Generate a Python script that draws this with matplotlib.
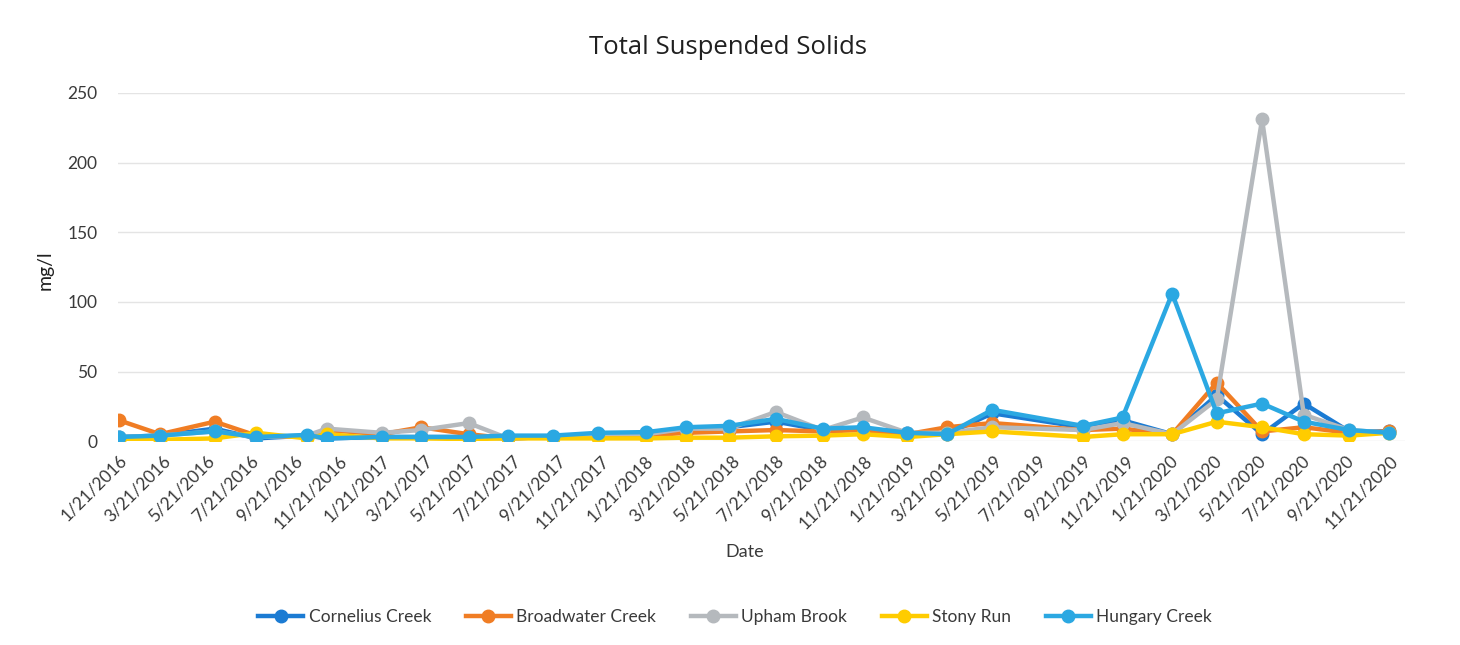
import matplotlib

matplotlib.use("Agg")
import matplotlib.pyplot as plt
import pandas as pd

# sample dates (approximate)
sample_dates = [
    "2016-01-21", "2016-03-18", "2016-06-02", "2016-07-30", "2016-10-08",
    "2016-11-05", "2017-01-20", "2017-03-16", "2017-05-21", "2017-07-15",
    "2017-09-15", "2017-11-17", "2018-01-23", "2018-03-19", "2018-05-18",
    "2018-07-22", "2018-09-25", "2018-11-20", "2019-01-21", "2019-03-17",
    "2019-05-19", "2019-09-22", "2019-11-16", "2020-01-24", "2020-03-26",
    "2020-05-28", "2020-07-25", "2020-09-26", "2020-11-21",
]

cornelius = [3, 4, 9, 2, 4, 2, 3, 3, 3, 2, 3, 5, 6, 9, 10, 14, 8, 9, 6, 5,
             20, 10, 15, 5, 33, 5, 27, 7, 7]
broadwater = [15, 5, 14, 4, 3, 8, 5, 10, 5, 2, 3, 4, 4, 6, 7, 8, 7, 8, 5, 10,
              13, 8, 9, 5, 42, 7, 10, 6, 7]
upham = [3, 4, 7, 3, 4, 9, 6, 8, 13, 2, 3, 5, 5, 9, 9, 21, 8, 17, 6, 6,
         10, 8, 13, 5, 30, 231, 19, 8, 6]
stony = [1, 1, 2, 6, 2, 5, 2, 2, 1.5, 2, 2, 2, 2, 2.5, 2.5, 3.5, 4, 5, 3, 5,
         7, 3, 5, 5, 14, 10, 5, 4, 6]
hungary = [3, 4, 7, 3, 4.5, 2, 3, 3, 3, 4, 4, 6, 6.5, 10, 11, 16, 9, 10, 6, 5,
           22.5, 11, 17, 106, 20, 27, 14, 8, 6]

series_names = ["Cornelius Creek", "Broadwater Creek", "Upham Brook", "Stony Run", "Hungary Creek"]
series_values = [cornelius, broadwater, upham, stony, hungary]
series_colors = ["#1b7bd3", "#f07d24", "#b5b9bd", "#ffcc00", "#2ba8e2"]

tick_labels = [
    "1/21/2016", "3/21/2016", "5/21/2016", "7/21/2016", "9/21/2016", "11/21/2016",
    "1/21/2017", "3/21/2017", "5/21/2017", "7/21/2017", "9/21/2017", "11/21/2017",
    "1/21/2018", "3/21/2018", "5/21/2018", "7/21/2018", "9/21/2018", "11/21/2018",
    "1/21/2019", "3/21/2019", "5/21/2019", "7/21/2019", "9/21/2019", "11/21/2019",
    "1/21/2020", "3/21/2020", "5/21/2020", "7/21/2020", "9/21/2020", "11/21/2020",
]

y_ticks = [0, 50, 100, 150, 200, 250]

FONT = ["Lato", "DejaVu Sans"]
TEXT_COLOR = "#3a3a3a"

dates = pd.to_datetime(sample_dates)
tick_dates = pd.to_datetime(tick_labels, format="%m/%d/%Y")

fig = plt.figure(figsize=(14.6, 6.45), dpi=100)
ax = fig.add_axes([0.081, 0.316, 0.881, 0.54])

for name, values, color in zip(series_names, series_values, series_colors):
    ax.plot(dates, values, color=color, linewidth=3.2, marker="o", markersize=9,
            label=name, solid_joinstyle="round")

ax.set_ylim(0, 250)
ax.set_yticks(y_ticks)
ax.set_xlim(pd.Timestamp("2016-01-20"), pd.Timestamp("2020-12-12"))
ax.set_xticks(tick_dates)
ax.set_xticklabels(tick_labels, rotation=45, ha="right", rotation_mode="anchor",
                   fontsize=12.5, family=FONT, color=TEXT_COLOR)
for lbl in ax.get_yticklabels():
    lbl.set_fontsize(12.5)
    lbl.set_family(FONT)
    lbl.set_color(TEXT_COLOR)

ax.grid(axis="y", color="#e4e4e4", linewidth=1)
ax.set_axisbelow(True)
ax.tick_params(axis="x", length=0, pad=8)
ax.tick_params(axis="y", length=0, pad=15)
for spine in ax.spines.values():
    spine.set_visible(False)

fig.text(728 / 1460, 1 - 47 / 645, "Total Suspended Solids", ha="center", va="center",
         fontsize=18.5, family=["Open Sans", "DejaVu Sans"], color="#202020")
fig.text(745 / 1460, 1 - 552 / 645, "Date", ha="center", va="center",
         fontsize=13, family=FONT, color=TEXT_COLOR)
fig.text(45 / 1460, 1 - 270 / 645, "mg/l", ha="center", va="center", rotation=90,
         fontsize=14, family=FONT, color="#202020")

ax.legend(loc="center", bbox_to_anchor=(735 / 1460, 1 - 617 / 645),
          bbox_transform=fig.transFigure, ncol=5, frameon=False,
          prop={"family": FONT, "size": 12.5}, handlelength=2.6, handletextpad=0.3,
          columnspacing=2.0, labelcolor=TEXT_COLOR)

fig.savefig("out.png")
